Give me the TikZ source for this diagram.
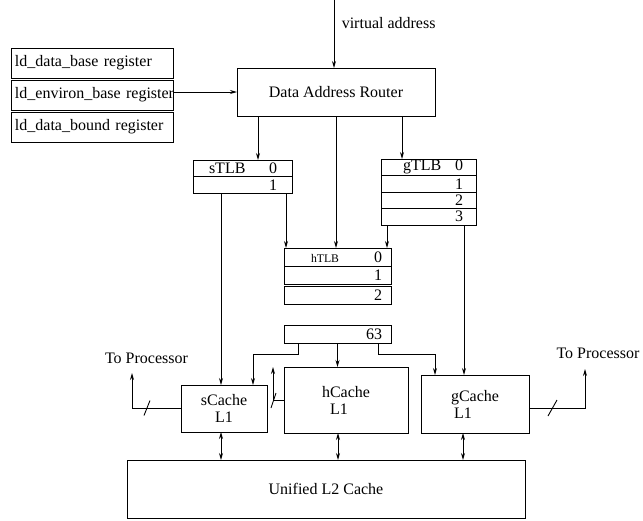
\documentclass[tikz,border=0pt]{standalone}
\usepackage{fontspec}
\setmainfont{Liberation Serif}
\usetikzlibrary{arrows.meta, positioning}

\begin{document}
\begin{tikzpicture}[>={Stealth[length=7pt,width=4pt]}, x=1pt, y=-1pt,
      line width=0.9pt,
      every node/.style={font=\fontsize{16}{17}\selectfont},
      reg/.style={draw, outer sep=0pt, minimum height=30pt, text width=154pt,
                  inner xsep=4pt, align=left},
      box/.style={draw, outer sep=0pt, align=center},
      row/.style={draw, outer sep=0pt, inner ysep=0pt, align=right},
      stlb/.style={row, text width=69pt, inner xsep=15pt, minimum height=16.5pt},
      htlb/.style={row, text width=89pt, inner xsep=9pt, minimum height=18pt},
      gtlb/.style={row, text width=69pt, inner xsep=13pt, minimum height=16.5pt},
      arr/.style={->},
      dbl/.style={<->}]
    \useasboundingbox (0,0) rectangle (643,520);
    % router and registers
    \coordinate (va) at (334,0);
    \node[anchor=west] (valbl) at (338,23) {virtual address};
    \node[box, minimum width=198pt, minimum height=48pt] (router) at (336,92) {Data Address Router};
    \node[reg] (dbase) at (92,63) {ld\_data\_base register};
    \node[reg, below=2pt of dbase] (ebase) {\mbox{ld\_environ\_base register}};
    \node[reg, below=2pt of ebase] (dbound) {ld\_data\_bound register};
    % TLBs
    \node[stlb] (s0) at (242.5,168.25) {\hspace*{1pt}sTLB\hfill 0};
    \node[stlb, below=0pt of s0] (s1) {1};
    \node[htlb] (h0) at (337.5,257) {\hspace*{18pt}{\fontsize{11.7}{13}\selectfont hTLB}\hfill 0};
    \node[htlb, below=0pt of h0] (h1) {1};
    \node[htlb, below=2pt of h1] (h2) {2};
    \node[gtlb] (g0) at (428.5,167.25) {\hspace*{9pt}gTLB\hfill 0};
    \node[gtlb, below=0pt of g0] (g1) {1};
    \node[gtlb, below=0pt of g1] (g2) {2};
    \node[gtlb, below=0pt of g2] (g3) {3};
    \node[htlb] (tag) at (337.5,334) {63};
    % caches
    \node[box, minimum width=86pt, minimum height=47pt] (sc) at (224,408.5) {sCache\\L1};
    \node[box, minimum width=124pt, minimum height=66pt, align=left] (hc) at (346,400) {hCache\\\hspace*{8pt}L1};
    \node[box, minimum width=108pt, minimum height=58pt, align=left] (gc) at (475,404) {gCache\\\hspace*{3pt}L1};
    \node[box, minimum width=398pt, minimum height=58pt] (l2) at (326,489) {Unified L2 Cache};
    \node (tpl) at (146.5,358) {To Processor};
    \node (tpr) at (598,353) {To Processor};
    \coordinate (lp) at (132,373);
    \coordinate (rp) at (585,369);
    % arrows
    \draw[arr] (va) -- (va |- router.north);
    \draw[arr] (ebase.east |- router.west) -- (router.west);
    \draw[arr] ([xshift=-78pt]router.south) -- ([xshift=-78pt]router.south |- s0.north);
    \draw[arr] (router.south) -- (router.south |- h0.north);
    \draw[arr] ([xshift=66pt]router.south) -- ([xshift=66pt]router.south |- g0.north);
    \draw[arr] ([xshift=43.5pt]s1.south) -- ([xshift=43.5pt]s1.south |- h0.north);
    \draw[arr] ([xshift=-41.5pt]g3.south) -- ([xshift=-41.5pt]g3.south |- h0.north);
    \draw[arr] ([xshift=-21.5pt]s1.south) -- ([xshift=-21.5pt]s1.south |- sc.north);
    \draw[arr] ([xshift=35.5pt]g3.south) -- ([xshift=35.5pt]g3.south |- gc.north);
    \draw[arr] ([xshift=-39.5pt]tag.south) -- ++(0,11) -| ([xshift=29pt]sc.north);
    \draw[arr] (tag.south) -- (tag.south |- hc.north);
    \draw[arr] ([xshift=40.5pt]tag.south) -- ++(0,11) -| ([xshift=-40pt]gc.north);
    \draw[dbl] ([xshift=-3pt]sc.south) -- ([xshift=-3pt]sc.south |- l2.north);
    \draw[dbl] ([xshift=-8pt]hc.south) -- ([xshift=-8pt]hc.south |- l2.north);
    \draw[dbl] ([xshift=-12pt]gc.south) -- ([xshift=-12pt]gc.south |- l2.north);
    % processor buses
    \draw[arr] (sc.west) -| (lp);
    \draw ([xshift=-34pt]sc.west) ++(-3,7) -- ++(6,-15);
    \draw[arr] (hc.west) -- ++(-11,0) -- ++(0,-33);
    \draw ([xshift=-11pt]hc.west) ++(-2,8) -- ++(5,-15);
    \draw[arr] ([yshift=-4pt]gc.east) -| (rp);
    \draw ([xshift=23.5pt,yshift=-4pt]gc.east) ++(-4.5,8) -- ++(9,-16);
  \end{tikzpicture}
\end{document}
